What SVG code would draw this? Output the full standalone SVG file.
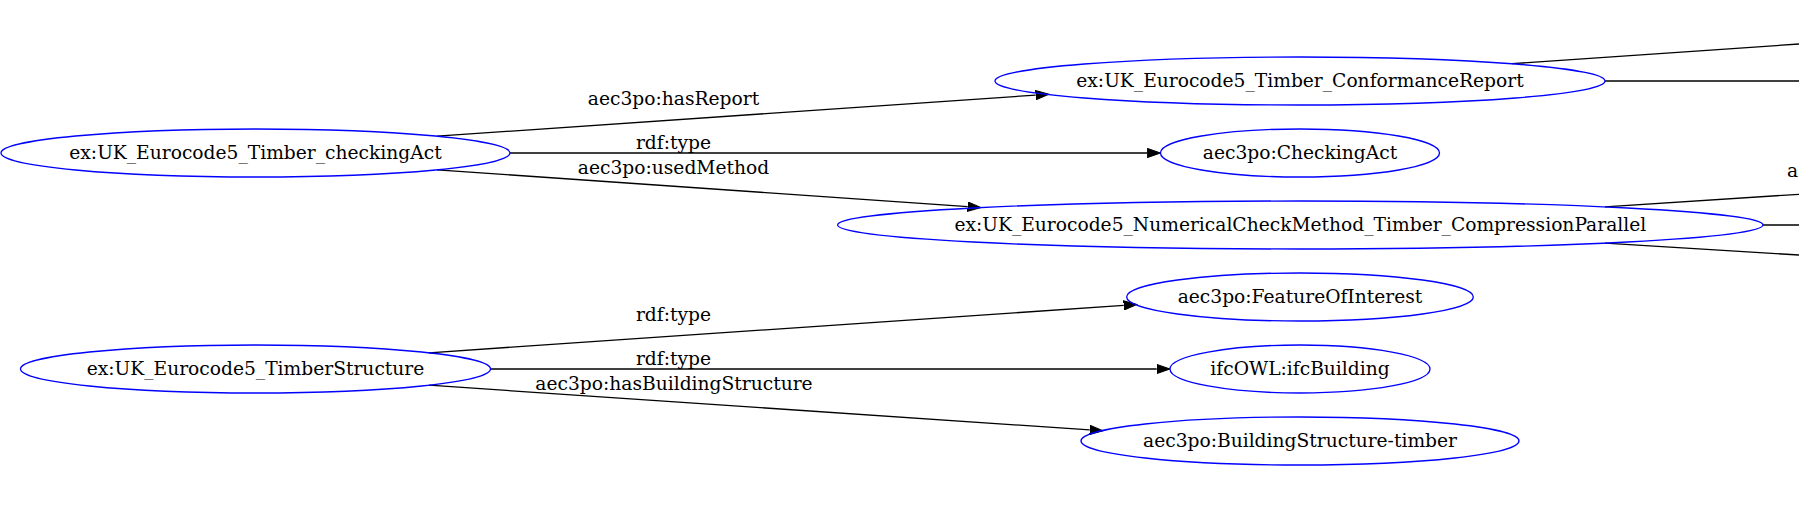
<svg xmlns="http://www.w3.org/2000/svg" width="1799" height="525" viewBox="0 0 1799 525">
<style>
.node ellipse{fill:none;stroke:#0000ff;stroke-width:1.33}
text{font-family:"DejaVu Serif","Liberation Serif",serif;font-size:18.67px;fill:#000}
.node text,.lbl{text-anchor:middle}
.edge path{fill:none;stroke:#000;stroke-width:1.33}
</style>
<defs>
<marker id="arr" markerUnits="userSpaceOnUse" markerWidth="14" markerHeight="10" viewBox="0 -5 14 10" refX="0" refY="0" orient="auto">
<path d="M0,-4.67 L13.33,0 L0,4.67 Z" fill="#000" stroke="#000" stroke-width="1"/>
</marker>
</defs>
<rect width="1799" height="525" fill="#fff"/>
<g id="edges" class="edge">
<path d="M437,136.2 L1035.7,95.1" marker-end="url(#arr)"/>
<path d="M510,153 L1147.2,153" marker-end="url(#arr)"/>
<path d="M437,169.8 L967.7,206.6" marker-end="url(#arr)"/>
<path d="M429,352.8 L1123.7,305.4" marker-end="url(#arr)"/>
<path d="M490.5,369 L1156.7,369" marker-end="url(#arr)"/>
<path d="M429,385.2 L1089.7,429.9" marker-end="url(#arr)"/>
<path d="M1512,63.7 L1799,44"/>
<path d="M1605,81 L1799,81"/>
<path d="M1605,206.9 L1799,194.3"/>
<path d="M1763,225 L1799,225"/>
<path d="M1605,243.1 L1799,255"/>
<text class="lbl" x="673.5" y="104.5">aec3po:hasReport</text>
<text class="lbl" x="673.5" y="148.5">rdf:type</text>
<text class="lbl" x="673.5" y="173.5">aec3po:usedMethod</text>
<text class="lbl" x="673.5" y="320.5">rdf:type</text>
<text class="lbl" x="673.5" y="364.5">rdf:type</text>
<text class="lbl" x="674" y="389.5">aec3po:hasBuildingStructure</text>
<text x="1787" y="177">a</text>
</g>
<g id="n_checkingAct" class="node"><ellipse cx="255.5" cy="153" rx="254.5" ry="24"/><text x="255.5" y="159">ex:UK_Eurocode5_Timber_checkingAct</text></g>
<g id="n_TimberStructure" class="node"><ellipse cx="255.5" cy="369" rx="235" ry="24"/><text x="255.5" y="375">ex:UK_Eurocode5_TimberStructure</text></g>
<g id="n_ConformanceReport" class="node"><ellipse cx="1300" cy="81" rx="305" ry="24"/><text x="1300" y="87">ex:UK_Eurocode5_Timber_ConformanceReport</text></g>
<g id="n_CheckingAct" class="node"><ellipse cx="1300" cy="153" rx="139.5" ry="24"/><text x="1300" y="159">aec3po:CheckingAct</text></g>
<g id="n_NumericalCheckMethod" class="node"><ellipse cx="1300.3" cy="225" rx="462.7" ry="24"/><text x="1300.3" y="231">ex:UK_Eurocode5_NumericalCheckMethod_Timber_CompressionParallel</text></g>
<g id="n_FeatureOfInterest" class="node"><ellipse cx="1300" cy="297" rx="173.3" ry="24"/><text x="1300" y="303">aec3po:FeatureOfInterest</text></g>
<g id="n_ifcBuilding" class="node"><ellipse cx="1300" cy="369" rx="130" ry="24"/><text x="1300" y="375">ifcOWL:ifcBuilding</text></g>
<g id="n_BuildingStructure" class="node"><ellipse cx="1300" cy="441" rx="219" ry="24"/><text x="1300" y="447">aec3po:BuildingStructure-timber</text></g>
</svg>
